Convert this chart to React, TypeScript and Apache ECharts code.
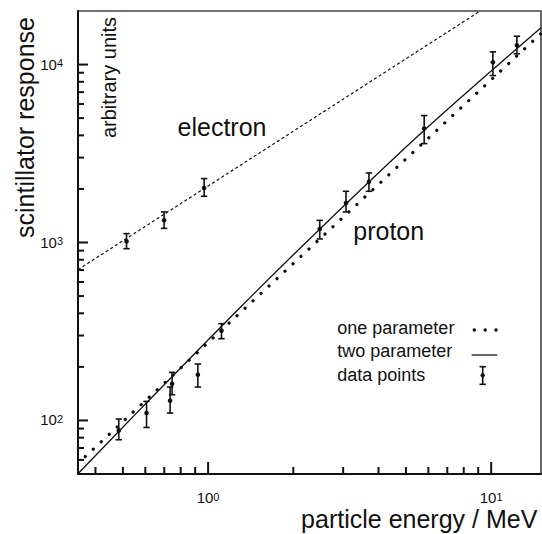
import React, { useEffect, useRef } from "react";
import * as echarts from "echarts";

const FONT = '"Liberation Sans", Arial, Helvetica, sans-serif';
const INK = "#111";

// axis ticks (values)
const xMajorTicks = [1, 10];
const xMinorTicks = [0.4, 0.5, 0.6, 0.7, 0.8, 0.9, 2, 3, 4, 5, 6, 7, 8, 9];
const yMajorTicks = [100, 1000, 10000];
const yMinorTicks = [60, 70, 80, 90, 200, 300, 400, 500, 600, 700, 800, 900, 2000, 3000, 4000, 5000, 6000, 7000, 8000, 9000];

// electron data points
const electronEnergy = [0.515, 0.699, 0.968];
const electronResponse = [1015, 1332, 2026];
const electronLow = [923, 1201, 1818];
const electronHigh = [1122, 1485, 2286];

// proton data points
const protonEnergy = [0.4835, 0.606, 0.734, 0.746, 0.92, 1.115, 2.48, 3.07, 3.7, 5.8, 10.14, 12.33];
const protonResponse = [87.8, 110, 129.1, 160.8, 180.7, 319.5, 1192, 1669, 2198, 4367, 10300, 12840];
const protonLow = [77.9, 91.3, 110, 139.5, 154.1, 288, 1047, 1485, 1940, 3596, 8673, 11490];
const protonHigh = [101.8, 127.9, 154.1, 186.2, 207.6, 349.8, 1332, 1940, 2460, 5169, 11790, 14430];

// fitted curves
const electronFitE = [0.347, 1, 9.15];
const electronFitR = [704, 2077, 20000];
const oneParamE = [0.347, 1, 10, 15];
const oneParamR = [57.4, 274, 8210, 14940];
const twoParamE = [0.347, 0.589, 1.295, 2.484, 5.84, 15];
const twoParamR = [50.2, 119.9, 430, 1192, 4310, 16080];

const X_MIN = 0.347;
const X_MAX = 15;
const Y_MIN = 50;
const Y_MAX = 20000;

const zip = (a: number[], b: number[]) => a.map((v, i) => [v, b[i]]);
const zip4 = (a: number[], b: number[], c: number[], d: number[]) =>
  a.map((v, i) => [v, b[i], c[i], d[i]]);

const supFormatter = (v: number) => {
  const e = Math.round(Math.log10(v));
  return `{b|10}{s|${e}}`;
};
const supRich = {
  b: { fontSize: 15, fontFamily: FONT, color: INK, lineHeight: 14, verticalAlign: "bottom" },
  s: { fontSize: 11, fontFamily: FONT, color: INK, lineHeight: 14, verticalAlign: "top" },
};

const errorBarRender = (params: any, api: any) => {
  const x = api.value(0);
  const c = api.coord([x, api.value(1)]);
  const lo = api.coord([x, api.value(2)]);
  const hi = api.coord([x, api.value(3)]);
  const hw = 3.2;
  const st = { stroke: INK, lineWidth: 1.6, fill: "none" };
  return {
    type: "group",
    children: [
      { type: "line", shape: { x1: c[0], y1: hi[1], x2: c[0], y2: lo[1] }, style: st },
      { type: "line", shape: { x1: c[0] - hw, y1: hi[1], x2: c[0] + hw, y2: hi[1] }, style: st },
      { type: "line", shape: { x1: c[0] - hw, y1: lo[1], x2: c[0] + hw, y2: lo[1] }, style: st },
      { type: "circle", shape: { cx: c[0], cy: c[1], r: 2.3 }, style: { fill: INK } },
    ],
  };
};

// axis ticks: position from the axis scale, edge from the grid rectangle
const makeXTick = (len: number) => (params: any, api: any) => {
  const p = api.coord([api.value(0), api.value(1)]);
  const cs = params.coordSys;
  const bottom = cs.y + cs.height;
  return {
    type: "group",
    children: [
      {
        type: "line",
        shape: { x1: p[0], y1: bottom, x2: p[0], y2: bottom - len },
        style: { stroke: INK, lineWidth: 2, fill: "none" },
      },
    ],
  };
};
const makeYTick = (len: number) => (params: any, api: any) => {
  const p = api.coord([api.value(0), api.value(1)]);
  const cs = params.coordSys;
  const left = cs.x;
  return {
    type: "group",
    children: [
      {
        type: "line",
        shape: { x1: left, y1: p[1], x2: left + len, y2: p[1] },
        style: { stroke: INK, lineWidth: 2, fill: "none" },
      },
    ],
  };
};

const tickSeries = (name: string, data: number[][], render: any) => ({
  name,
  type: "custom",
  renderItem: render,
  data,
  encode: { x: 0, y: 1 },
  z: 4,
});

const txt = (text: string, x: number, y: number, size: number, align = "left", rotation = 0) => ({
  type: "text",
  x,
  y,
  rotation,
  style: {
    text,
    fontSize: size,
    fontFamily: FONT,
    fill: INK,
    align,
    verticalAlign: "middle",
  },
});

export default function App() {
  const ref = useRef<HTMLDivElement>(null);
  useEffect(() => {
    if (!ref.current) return;
    const chart = echarts.init(ref.current, null, { renderer: "svg" });
    const xRef = 2.5;
    const yRef = 500;
    chart.setOption({
      animation: false,
      backgroundColor: "#fff",
      textStyle: { fontFamily: FONT, color: INK },
      grid: {
        left: 78,
        top: 11,
        right: 1,
        bottom: 60,
        show: true,
        borderColor: "#444",
        borderWidth: 1.6,
        containLabel: false,
      },
      xAxis: {
        type: "log",
        logBase: 10,
        min: X_MIN,
        max: X_MAX,
        splitLine: { show: false },
        axisLine: { show: true, onZero: false, lineStyle: { color: INK, width: 2 } },
        axisTick: { show: false },
        axisLabel: { show: true, customValues: xMajorTicks, margin: 17, formatter: supFormatter, rich: supRich },
      },
      yAxis: {
        type: "log",
        logBase: 10,
        min: Y_MIN,
        max: Y_MAX,
        splitLine: { show: false },
        axisLine: { show: true, onZero: false, lineStyle: { color: INK, width: 2 } },
        axisTick: { show: false },
        axisLabel: { show: true, customValues: yMajorTicks, margin: 15, formatter: supFormatter, rich: supRich },
      },
      series: [
        {
          name: "electron fit",
          type: "line",
          data: zip(electronFitE, electronFitR),
          showSymbol: false,
          symbol: "none",
          lineStyle: { color: INK, width: 1.2, type: [3, 2.5] },
          z: 2,
        },
        {
          name: "one parameter",
          type: "line",
          data: zip(oneParamE, oneParamR),
          showSymbol: false,
          symbol: "none",
          lineStyle: { color: INK, width: 3.2, type: [0.1, 10.8], cap: "round", dashOffset: 0.9 },
          z: 2,
        },
        {
          name: "two parameter",
          type: "line",
          data: zip(twoParamE, twoParamR),
          showSymbol: false,
          symbol: "none",
          smooth: 0.3,
          lineStyle: { color: INK, width: 1.3 },
          z: 2,
        },
        {
          name: "electron points",
          type: "custom",
          renderItem: errorBarRender,
          data: zip4(electronEnergy, electronResponse, electronLow, electronHigh),
          encode: { x: 0, y: [1, 2, 3] },
          z: 3,
        },
        {
          name: "data points",
          type: "custom",
          renderItem: errorBarRender,
          data: zip4(protonEnergy, protonResponse, protonLow, protonHigh),
          encode: { x: 0, y: [1, 2, 3] },
          z: 3,
        },
        tickSeries("x major ticks", xMajorTicks.map((v) => [v, yRef]), makeXTick(12)),
        tickSeries("x minor ticks", xMinorTicks.map((v) => [v, yRef]), makeXTick(7)),
        tickSeries("y major ticks", yMajorTicks.map((v) => [xRef, v]), makeYTick(10)),
        tickSeries("y minor ticks", yMinorTicks.map((v) => [xRef, v]), makeYTick(6)),
      ],
      graphic: [
        txt("scintillator response", 24.5, 127.5, 25, "center", Math.PI / 2),
        txt("arbitrary units", 108.5, 77.5, 20, "center", Math.PI / 2),
        txt("electron", 222, 127.3, 25, "center"),
        txt("proton", 388.7, 230.6, 25, "center"),
        txt("particle energy / MeV", 419.2, 518.5, 25, "center"),
        txt("one parameter", 337.3, 328, 18, "left"),
        txt("two parameter", 337.3, 351.3, 18, "left"),
        txt("data points", 337.3, 374.6, 18, "left"),
        { type: "circle", shape: { cx: 474.3, cy: 330, r: 1.7 }, style: { fill: INK } },
        { type: "circle", shape: { cx: 485.2, cy: 330, r: 1.7 }, style: { fill: INK } },
        { type: "circle", shape: { cx: 496, cy: 330, r: 1.7 }, style: { fill: INK } },
        { type: "line", shape: { x1: 471.7, y1: 355, x2: 497.3, y2: 355 }, style: { stroke: INK, lineWidth: 1.3 } },
        { type: "line", shape: { x1: 482.7, y1: 366.7, x2: 482.7, y2: 384.3 }, style: { stroke: INK, lineWidth: 1.6 } },
        { type: "line", shape: { x1: 479.5, y1: 366.7, x2: 485.9, y2: 366.7 }, style: { stroke: INK, lineWidth: 1.6 } },
        { type: "line", shape: { x1: 479.5, y1: 384.3, x2: 485.9, y2: 384.3 }, style: { stroke: INK, lineWidth: 1.6 } },
        { type: "circle", shape: { cx: 482.7, cy: 375.3, r: 2.2 }, style: { fill: INK } },
      ],
    });
    return () => chart.dispose();
  }, []);
  return (
    <div
      ref={ref}
      style={{ position: "absolute", left: 0, top: 0, width: 542, height: 534, background: "#fff" }}
    />
  );
}
